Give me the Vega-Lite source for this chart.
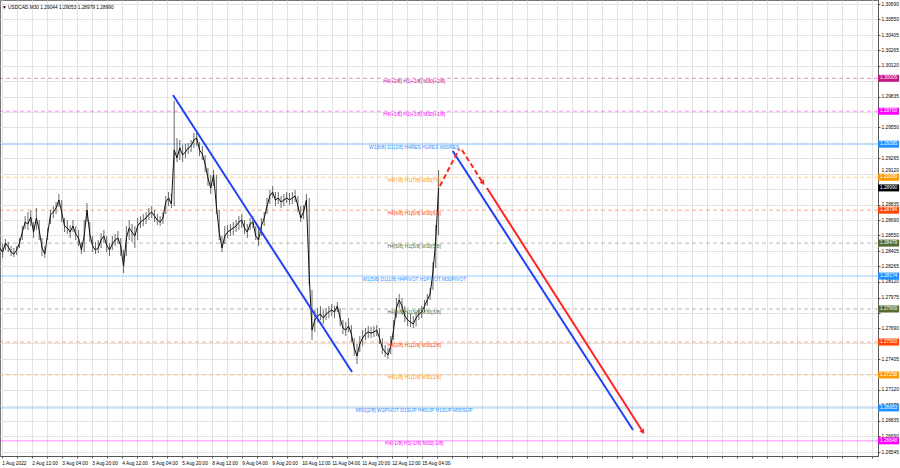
{
  "$schema": "https://vega.github.io/schema/vega-lite/v6.json",
  "width": 878,
  "height": 456,
  "autosize": {"type": "none"},
  "padding": {"left": 0, "top": 0, "right": 22, "bottom": 12},
  "background": "white",
  "title": {"text": "▼ USDCAD,M30  1.29044 1.29053 1.28979 1.28990", "anchor": "start", "frame": "group", "orient": "top", "offset": -3, "baseline": "top", "dx": 2, "dy": 7, "fontSize": 4.8, "fontWeight": "normal", "font": "Liberation Sans, DejaVu Sans", "color": "#000"},
  "config": {
    "font": "Liberation Sans",
    "view": {"stroke": "#777", "strokeWidth": 1},
    "axis": {"gridColor": "#E3E3E3", "gridWidth": 1, "domainColor": "#555", "tickColor": "#555", "labelColor": "#000", "labelFontSize": 4.8, "tickSize": 2, "labelPadding": 1, "title": null, "labelOverlap": false}
  },
  "datasets": {
    "bars": [
      {"i":-2,"h":1.2848,"l":1.28369,"c":1.28434},
      {"i":1,"h":1.28471,"l":1.28341,"c":1.28396},
      {"i":4,"h":1.28517,"l":1.28415,"c":1.2848},
      {"i":7,"h":1.28489,"l":1.28396,"c":1.28443},
      {"i":10,"h":1.28452,"l":1.28359,"c":1.28396},
      {"i":13,"h":1.28434,"l":1.2835,"c":1.28378},
      {"i":16,"h":1.28452,"l":1.28369,"c":1.28415},
      {"i":19,"h":1.28526,"l":1.28434,"c":1.2848},
      {"i":22,"h":1.28637,"l":1.28508,"c":1.28581},
      {"i":25,"h":1.28729,"l":1.2861,"c":1.28674},
      {"i":28,"h":1.28766,"l":1.286,"c":1.28656},
      {"i":31,"h":1.28785,"l":1.28637,"c":1.2872},
      {"i":34,"h":1.28674,"l":1.28526,"c":1.28581},
      {"i":37,"h":1.28804,"l":1.286,"c":1.28711},
      {"i":40,"h":1.28693,"l":1.28508,"c":1.286},
      {"i":43,"h":1.28526,"l":1.28359,"c":1.28434},
      {"i":46,"h":1.28452,"l":1.28341,"c":1.28378},
      {"i":49,"h":1.28619,"l":1.28508,"c":1.28563},
      {"i":52,"h":1.28785,"l":1.28656,"c":1.28739},
      {"i":55,"h":1.28822,"l":1.28711,"c":1.28766},
      {"i":58,"h":1.28859,"l":1.28748,"c":1.28804},
      {"i":61,"h":1.28934,"l":1.28813,"c":1.28878},
      {"i":64,"h":1.28878,"l":1.28674,"c":1.28766},
      {"i":67,"h":1.28711,"l":1.28581,"c":1.28637},
      {"i":70,"h":1.28693,"l":1.28563,"c":1.28619},
      {"i":73,"h":1.28647,"l":1.28526,"c":1.28581},
      {"i":76,"h":1.28693,"l":1.28581,"c":1.28637},
      {"i":79,"h":1.28637,"l":1.28508,"c":1.28563},
      {"i":82,"h":1.286,"l":1.28452,"c":1.28526},
      {"i":85,"h":1.28489,"l":1.28378,"c":1.28415},
      {"i":88,"h":1.28693,"l":1.28396,"c":1.28545},
      {"i":91,"h":1.2885,"l":1.28674,"c":1.28785},
      {"i":94,"h":1.28674,"l":1.28489,"c":1.28563},
      {"i":97,"h":1.28545,"l":1.28396,"c":1.28452},
      {"i":100,"h":1.28489,"l":1.28378,"c":1.28415},
      {"i":103,"h":1.28508,"l":1.28387,"c":1.28434},
      {"i":106,"h":1.28572,"l":1.28434,"c":1.28508},
      {"i":109,"h":1.286,"l":1.2848,"c":1.28545},
      {"i":112,"h":1.28545,"l":1.28396,"c":1.28461},
      {"i":115,"h":1.2848,"l":1.28359,"c":1.28415},
      {"i":118,"h":1.28545,"l":1.28415,"c":1.28471},
      {"i":121,"h":1.28563,"l":1.28452,"c":1.28508},
      {"i":124,"h":1.28591,"l":1.28471,"c":1.28526},
      {"i":127,"h":1.28526,"l":1.28359,"c":1.28452},
      {"i":130,"h":1.28415,"l":1.28202,"c":1.28267},
      {"i":133,"h":1.28637,"l":1.28359,"c":1.28526},
      {"i":136,"h":1.28693,"l":1.28508,"c":1.28619},
      {"i":139,"h":1.28656,"l":1.28489,"c":1.28581},
      {"i":142,"h":1.28637,"l":1.28434,"c":1.28545},
      {"i":145,"h":1.28711,"l":1.28508,"c":1.28637},
      {"i":148,"h":1.28729,"l":1.28619,"c":1.28674},
      {"i":151,"h":1.28748,"l":1.28637,"c":1.28693},
      {"i":154,"h":1.28766,"l":1.28656,"c":1.28711},
      {"i":157,"h":1.28804,"l":1.28693,"c":1.28748},
      {"i":160,"h":1.28822,"l":1.28711,"c":1.28766},
      {"i":163,"h":1.28785,"l":1.28674,"c":1.28729},
      {"i":166,"h":1.28748,"l":1.28647,"c":1.28693},
      {"i":169,"h":1.28729,"l":1.28637,"c":1.28674},
      {"i":172,"h":1.28766,"l":1.28656,"c":1.28711},
      {"i":175,"h":1.28915,"l":1.28748,"c":1.28859},
      {"i":178,"h":1.28952,"l":1.28822,"c":1.28897},
      {"i":181,"h":1.28934,"l":1.28804,"c":1.28841},
      {"i":184,"h":1.29795,"l":1.28822,"c":1.29341},
      {"i":187,"h":1.29452,"l":1.2923,"c":1.29267},
      {"i":190,"h":1.29434,"l":1.29248,"c":1.2936},
      {"i":193,"h":1.29388,"l":1.2923,"c":1.29295},
      {"i":196,"h":1.29397,"l":1.29267,"c":1.29323},
      {"i":199,"h":1.29406,"l":1.29304,"c":1.2936},
      {"i":202,"h":1.29434,"l":1.29323,"c":1.29378},
      {"i":205,"h":1.29498,"l":1.2936,"c":1.29434},
      {"i":208,"h":1.29517,"l":1.29378,"c":1.29452},
      {"i":211,"h":1.29415,"l":1.29285,"c":1.29341},
      {"i":214,"h":1.29378,"l":1.29248,"c":1.29304},
      {"i":217,"h":1.29295,"l":1.29137,"c":1.29211},
      {"i":220,"h":1.29174,"l":1.29008,"c":1.29082},
      {"i":223,"h":1.2911,"l":1.28934,"c":1.28989},
      {"i":226,"h":1.29156,"l":1.29008,"c":1.2911},
      {"i":229,"h":1.2911,"l":1.28748,"c":1.28822},
      {"i":232,"h":1.28785,"l":1.28508,"c":1.28581},
      {"i":235,"h":1.28545,"l":1.28396,"c":1.28434},
      {"i":238,"h":1.28637,"l":1.28471,"c":1.28545},
      {"i":241,"h":1.28647,"l":1.28526,"c":1.28581},
      {"i":244,"h":1.28656,"l":1.28545,"c":1.286},
      {"i":247,"h":1.28674,"l":1.28554,"c":1.28619},
      {"i":250,"h":1.28693,"l":1.28581,"c":1.28637},
      {"i":253,"h":1.28729,"l":1.286,"c":1.28674},
      {"i":256,"h":1.28748,"l":1.28619,"c":1.28693},
      {"i":259,"h":1.28693,"l":1.28563,"c":1.28619},
      {"i":262,"h":1.28656,"l":1.28526,"c":1.28581},
      {"i":265,"h":1.28711,"l":1.286,"c":1.28656},
      {"i":268,"h":1.28729,"l":1.28619,"c":1.28674},
      {"i":271,"h":1.28637,"l":1.28508,"c":1.28545},
      {"i":274,"h":1.28619,"l":1.28452,"c":1.28508},
      {"i":277,"h":1.28711,"l":1.28545,"c":1.28637},
      {"i":280,"h":1.28766,"l":1.28637,"c":1.28711},
      {"i":283,"h":1.28897,"l":1.28748,"c":1.28822},
      {"i":286,"h":1.28971,"l":1.28841,"c":1.28915},
      {"i":289,"h":1.29008,"l":1.28897,"c":1.28952},
      {"i":292,"h":1.28952,"l":1.28822,"c":1.28878},
      {"i":295,"h":1.28952,"l":1.28841,"c":1.28897},
      {"i":298,"h":1.28915,"l":1.28804,"c":1.28859},
      {"i":301,"h":1.28934,"l":1.28822,"c":1.28878},
      {"i":304,"h":1.28952,"l":1.2885,"c":1.28897},
      {"i":307,"h":1.28943,"l":1.28832,"c":1.28878},
      {"i":310,"h":1.28952,"l":1.28841,"c":1.28897},
      {"i":313,"h":1.28971,"l":1.28859,"c":1.28915},
      {"i":316,"h":1.28915,"l":1.28766,"c":1.28822},
      {"i":319,"h":1.28822,"l":1.28674,"c":1.28711},
      {"i":322,"h":1.28832,"l":1.28702,"c":1.28766},
      {"i":325,"h":1.28934,"l":1.28785,"c":1.28878},
      {"i":328,"h":1.28897,"l":1.28091,"c":1.28184},
      {"i":331,"h":1.28045,"l":1.27582,"c":1.27674},
      {"i":334,"h":1.27859,"l":1.27656,"c":1.27767},
      {"i":337,"h":1.27878,"l":1.27748,"c":1.27804},
      {"i":340,"h":1.27896,"l":1.27767,"c":1.27822},
      {"i":343,"h":1.27859,"l":1.2773,"c":1.27785},
      {"i":346,"h":1.27878,"l":1.27767,"c":1.27822},
      {"i":349,"h":1.27896,"l":1.27785,"c":1.27841},
      {"i":352,"h":1.27915,"l":1.27804,"c":1.27859},
      {"i":355,"h":1.27896,"l":1.27785,"c":1.27841},
      {"i":358,"h":1.27933,"l":1.27841,"c":1.27896},
      {"i":361,"h":1.27878,"l":1.27711,"c":1.27785},
      {"i":364,"h":1.27767,"l":1.27637,"c":1.27693},
      {"i":367,"h":1.27748,"l":1.27619,"c":1.27674},
      {"i":370,"h":1.27785,"l":1.27656,"c":1.27711},
      {"i":373,"h":1.2772,"l":1.27563,"c":1.27637},
      {"i":376,"h":1.276,"l":1.27434,"c":1.27508},
      {"i":379,"h":1.27545,"l":1.27359,"c":1.27434},
      {"i":382,"h":1.27619,"l":1.27471,"c":1.27545},
      {"i":385,"h":1.27674,"l":1.27526,"c":1.276},
      {"i":388,"h":1.27693,"l":1.27582,"c":1.27637},
      {"i":391,"h":1.27711,"l":1.276,"c":1.27656},
      {"i":394,"h":1.27702,"l":1.276,"c":1.27646},
      {"i":397,"h":1.27711,"l":1.27609,"c":1.27656},
      {"i":400,"h":1.2772,"l":1.27619,"c":1.27674},
      {"i":403,"h":1.27693,"l":1.27545,"c":1.276},
      {"i":406,"h":1.276,"l":1.27452,"c":1.27508},
      {"i":409,"h":1.27535,"l":1.27424,"c":1.27471},
      {"i":412,"h":1.27508,"l":1.27406,"c":1.27443},
      {"i":415,"h":1.27619,"l":1.27452,"c":1.27526},
      {"i":418,"h":1.27767,"l":1.27582,"c":1.27674},
      {"i":421,"h":1.27971,"l":1.27785,"c":1.27878},
      {"i":424,"h":1.28008,"l":1.27878,"c":1.27952},
      {"i":427,"h":1.27971,"l":1.27822,"c":1.27896},
      {"i":430,"h":1.27896,"l":1.27748,"c":1.27804},
      {"i":433,"h":1.27841,"l":1.27711,"c":1.27767},
      {"i":436,"h":1.27822,"l":1.27702,"c":1.27748},
      {"i":439,"h":1.27804,"l":1.27693,"c":1.2773},
      {"i":442,"h":1.27841,"l":1.27711,"c":1.27785},
      {"i":445,"h":1.27878,"l":1.27767,"c":1.27822},
      {"i":448,"h":1.27896,"l":1.27785,"c":1.27841},
      {"i":451,"h":1.27952,"l":1.27841,"c":1.27896},
      {"i":454,"h":1.28008,"l":1.27896,"c":1.27952},
      {"i":457,"h":1.28063,"l":1.27952,"c":1.28008},
      {"i":460,"h":1.28304,"l":1.28045,"c":1.28211},
      {"i":463,"h":1.28647,"l":1.28248,"c":1.28508},
      {"i":466,"h":1.29156,"l":1.28554,"c":1.2899}
    ],
    "levels": [
      {"lvl":"+2/8","p":1.30005,"label":"H4[+2/8] H1[+2/8] M30[+2/8]"},
      {"lvl":"+1/8","p":1.297,"label":"H4[+1/8] H1[+1/8] M30[+1/8]"},
      {"lvl":"RES","p":1.29395,"label":"W1[6/8] D1[2/8] H4RES H1RES M30RES"},
      {"lvl":"7/8","p":1.29089,"label":"H4[7/8] H1[7/8] M30[7/8]"},
      {"lvl":"6/8","p":1.28784,"label":"H4[6/8] H1[6/8] M30[6/8]"},
      {"lvl":"5/8","p":1.28479,"label":"H4[5/8] H1[5/8] M30[5/8]"},
      {"lvl":"PIVOT","p":1.28174,"label":"W1[5/8] D1[1/8] H4PIVOT H1PIVOT M30PIVOT"},
      {"lvl":"3/8","p":1.27869,"label":"H4[3/8] H1[3/8] M30[3/8]"},
      {"lvl":"2/8","p":1.27563,"label":"H4[2/8] H1[2/8] M30[2/8]"},
      {"lvl":"1/8","p":1.27258,"label":"H4[1/8] H1[1/8] M30[1/8]"},
      {"lvl":"SUP","p":1.26953,"label":"MN1[2/8] W1PIVOT D1SUP H4SUP H1SUP M30SUP"},
      {"lvl":"-1/8","p":1.26648,"label":"H4[-1/8] H1[-1/8] M30[-1/8]"},
      {"lvl":"price","p":1.2899,"label":""}
    ],
    "lines": [
      {"id":"blue1","kind":"blue","i":182.7,"p":1.2985},
      {"id":"blue1","kind":"blue","i":373.7,"p":1.27285},
      {"id":"blue2","kind":"blue","i":481.1,"p":1.29332},
      {"id":"blue2","kind":"blue","i":673.4,"p":1.26748},
      {"id":"red1","kind":"reddash","i":467.5,"p":1.29008},
      {"id":"red1","kind":"reddash","i":487.8,"p":1.2935},
      {"id":"red2","kind":"reddash","i":491,"p":1.29341},
      {"id":"red2","kind":"reddash","i":513.4,"p":1.29035},
      {"id":"red3","kind":"red","i":517.6,"p":1.28989},
      {"id":"red3","kind":"red","i":684,"p":1.2673}
    ],
    "arrows": [
      {"i":513.4,"p":1.29035},
      {"i":684,"p":1.2673}
    ]
  },
  "layer": [
    {
      "data": {"name": "levels"},
      "transform": [{"filter": "datum.lvl != 'price'"}],
      "mark": {"type": "rule", "strokeWidth": 1, "opacity": 0.45},
      "encoding": {
        "y": {"field": "p", "type": "quantitative", "title": null,
          "scale": {"domain": [1.26508, 1.3073], "nice": false, "zero": false},
          "axis": {"orient": "right", "format": ".5f", "grid": true, "labelAlign": "left", "labelOverlap": false, "tickCount": 200,
            "labelOffset": {"condition": {"test": "datum.value == 1.2912", "value": -3}, "value": 0},
            "labelExpr": "indexof(['1.29980','1.29695','1.29410','1.28980','1.27835','1.27550','1.27265'], datum.label) >= 0 ? '' : datum.label",
            "values": [1.3069,1.3055,1.30405,1.30265,1.3012,1.2998,1.29835,1.29695,1.2955,1.2941,1.29265,1.2912,1.2898,1.28835,1.2869,1.2855,1.28405,1.28265,1.2812,1.27975,1.27835,1.2769,1.2755,1.27405,1.27265,1.2712,1.26975,1.26835,1.2669,1.26545]}},
        "color": {"field": "lvl", "type": "nominal", "legend": null,
          "scale": {"domain": ["+2/8","+1/8","RES","7/8","6/8","5/8","PIVOT","3/8","2/8","1/8","SUP","-1/8","price"],
                    "range": ["#C71585","#FF00FF","#1E90FF","#FF9900","#FF4500","#556B2F","#1E90FF","#556B2F","#FF4500","#FF9900","#1E90FF","#FF00FF","#000000"]}},
        "strokeDash": {"field": "lvl", "type": "nominal", "legend": null,
          "scale": {"domain": ["+2/8","+1/8","RES","7/8","6/8","5/8","PIVOT","3/8","2/8","1/8","SUP","-1/8","price"],
                    "range": [[4,3],[4,3],[1,0],[4,3],[4,3],[4,3],[1,0],[4,3],[4,3],[4,3],[1,0],[1,0],[1,0]]}}
      }
    },
    {
      "data": {"name": "bars"},
      "mark": {"type": "rule", "color": "#6a6a6a", "strokeWidth": 1},
      "encoding": {
        "x": {"field": "i", "type": "quantitative", "title": null,
          "scale": {"domain": [-1.8, 934.7], "nice": false, "zero": false},
          "axis": {"orient": "bottom", "grid": true, "labelAlign": "left", "labelOverlap": false, "labelFlush": false, "labelBound": false, "labelPadding": 2, "tickCount": 200,
            "values": [0,16,32,48,64,80,96,112,128,144,160,176,192,208,224,240,256,272,288,304,320,336,352,368,384,400,416,432,448,464,480,496,512,528,544,560,576,592,608,624,640,656,672,688,704,720,736,752,768,784,800,816,832,848,864,880,896,912,928],
            "labelExpr": "datum.value % 32 == 0 && datum.value <= 448 ? ['1 Aug 2022','2 Aug 12:00','3 Aug 04:00','3 Aug 20:00','4 Aug 12:00','5 Aug 04:00','5 Aug 20:00','8 Aug 12:00','9 Aug 04:00','9 Aug 20:00','10 Aug 12:00','11 Aug 04:00','11 Aug 20:00','12 Aug 12:00','15 Aug 04:00'][datum.value / 32] : ''"}},
        "y": {"field": "l", "type": "quantitative", "title": null},
        "y2": {"field": "h"}
      }
    },
    {
      "data": {"name": "bars"},
      "mark": {"type": "line", "color": "#111111", "strokeWidth": 1},
      "encoding": {
        "x": {"field": "i", "type": "quantitative", "title": null},
        "y": {"field": "c", "type": "quantitative", "title": null}
      }
    },
    {
      "data": {"name": "lines"},
      "transform": [{"filter": "datum.kind == 'blue'"}],
      "mark": {"type": "line", "color": "#2440F5", "strokeWidth": 2},
      "encoding": {
        "x": {"field": "i", "type": "quantitative", "title": null},
        "y": {"field": "p", "type": "quantitative", "title": null},
        "detail": {"field": "id"}
      }
    },
    {
      "data": {"name": "lines"},
      "transform": [{"filter": "datum.kind == 'red'"}],
      "mark": {"type": "line", "color": "#FF2424", "strokeWidth": 2},
      "encoding": {
        "x": {"field": "i", "type": "quantitative", "title": null},
        "y": {"field": "p", "type": "quantitative", "title": null},
        "detail": {"field": "id"}
      }
    },
    {
      "data": {"name": "lines"},
      "transform": [{"filter": "datum.kind == 'reddash'"}],
      "mark": {"type": "line", "color": "#FF2424", "strokeWidth": 2, "strokeDash": [5, 3]},
      "encoding": {
        "x": {"field": "i", "type": "quantitative", "title": null},
        "y": {"field": "p", "type": "quantitative", "title": null},
        "detail": {"field": "id"}
      }
    },
    {
      "data": {"name": "arrows"},
      "mark": {"type": "point", "shape": "triangle-down", "angle": -33, "filled": true, "color": "#FF2424", "size": 30, "opacity": 1},
      "encoding": {
        "x": {"field": "i", "type": "quantitative", "title": null},
        "y": {"field": "p", "type": "quantitative", "title": null}
      }
    },
    {
      "data": {"name": "levels"},
      "transform": [{"filter": "datum.lvl != 'price'"}],
      "mark": {"type": "text", "fontSize": 4.9, "align": "center", "baseline": "top", "dy": 0.5},
      "encoding": {
        "x": {"datum": 440, "type": "quantitative"},
        "y": {"field": "p", "type": "quantitative", "title": null},
        "text": {"field": "label"},
        "color": {"field": "lvl", "type": "nominal", "legend": null}
      }
    },
    {
      "data": {"name": "levels"},
      "mark": {"type": "tick", "orient": "horizontal", "size": 21, "thickness": 7, "opacity": 1},
      "encoding": {
        "x": {"datum": 946, "type": "quantitative"},
        "y": {"field": "p", "type": "quantitative", "title": null},
        "color": {"field": "lvl", "type": "nominal", "legend": null}
      }
    },
    {
      "data": {"name": "levels"},
      "mark": {"type": "text", "fontSize": 4.8, "align": "center", "baseline": "middle", "color": "white"},
      "encoding": {
        "x": {"datum": 946, "type": "quantitative"},
        "y": {"field": "p", "type": "quantitative", "title": null},
        "text": {"field": "p", "format": ".5f"}
      }
    }
  ]
}
